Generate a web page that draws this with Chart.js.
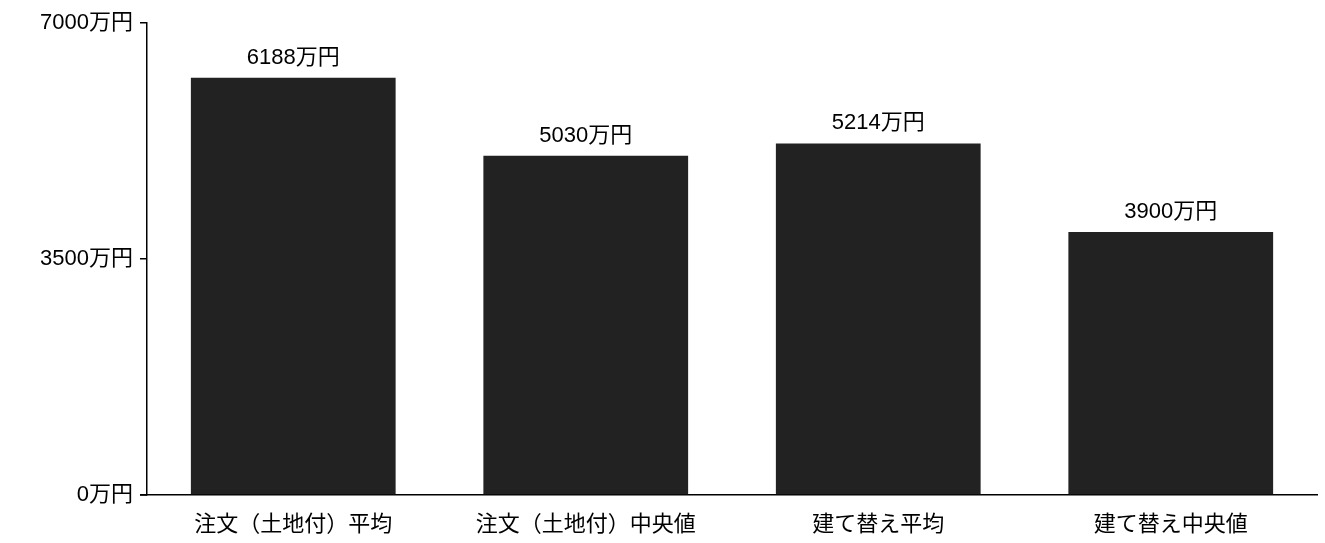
<!DOCTYPE html>
<html lang="ja">
<head>
<meta charset="utf-8">
<script src="https://cdn.jsdelivr.net/npm/chart.js@4"></script>
<style>
  html, body { margin: 0; padding: 0; background: #fff; }
  canvas { display: block; }
</style>
</head>
<body>
<canvas id="chart" width="1325" height="543"></canvas>
<script>
// ===== データ =====
const categories = ["注文（土地付）平均", "注文（土地付）中央値", "建て替え平均", "建て替え中央値"];
const prices = [6188, 5030, 5214, 3900];
const yTicks = [0, 3500, 7000];

const FONT = "'Liberation Sans', 'Noto Sans CJK JP', sans-serif";

// ===== 棒の上に値を表示 =====
const valueLabels = {
    id: 'valueLabels',
    afterDatasetsDraw(chart) {
        const ctx = chart.ctx;
        const meta = chart.getDatasetMeta(0);
        ctx.save();
        ctx.font = `22px ${FONT}`;
        ctx.fillStyle = '#000';
        ctx.textAlign = 'center';
        ctx.textBaseline = 'alphabetic';
        meta.data.forEach((bar, i) => {
            ctx.fillText(prices[i] + '万円', bar.x, bar.y - 14);
        });
        ctx.restore();
    }
};

// ===== x軸の線を左に少し延ばす =====
const axisStub = {
    id: 'axisStub',
    afterDraw(chart) {
        const { ctx, chartArea } = chart;
        ctx.save();
        ctx.strokeStyle = '#000';
        ctx.lineWidth = 1.5;
        ctx.beginPath();
        ctx.moveTo(chartArea.left - 7, chartArea.bottom);
        ctx.lineTo(chartArea.left, chartArea.bottom);
        ctx.stroke();
        ctx.restore();
    }
};

new Chart(document.getElementById('chart').getContext('2d'), {
    type: 'bar',
    data: {
        labels: categories,
        datasets: [{
            data: prices,
            backgroundColor: '#222222',
            borderWidth: 0,
            categoryPercentage: 0.7,
            barPercentage: 1.0
        }]
    },
    options: {
        responsive: false,
        animation: false,
        layout: { padding: { top: 23, right: 8, left: 0, bottom: 0 } },
        plugins: {
            legend: { display: false },
            tooltip: { enabled: false }
        },
        scales: {
            x: {
                grid: { display: false },
                border: { display: true, color: '#000', width: 1.5 },
                ticks: {
                    color: '#000',
                    font: { family: FONT, size: 22 },
                    padding: 9,
                    maxRotation: 0
                },
                afterFit(axis) { axis.height = 48; }
            },
            y: {
                min: 0,
                max: 7000,
                afterBuildTicks(axis) {
                    axis.ticks = yTicks.map(v => ({ value: v }));
                },
                grid: {
                    drawOnChartArea: false,
                    drawTicks: true,
                    tickLength: 7,
                    color: '#000',
                    lineWidth: 1.5
                },
                border: { display: true, color: '#000', width: 1.5 },
                ticks: {
                    color: '#000',
                    font: { family: FONT, size: 22 },
                    padding: 7,
                    callback: v => v + '万円'
                },
                afterFit(axis) { axis.width = 147; }
            }
        }
    },
    plugins: [valueLabels, axisStub]
});
</script>
</body>
</html>
